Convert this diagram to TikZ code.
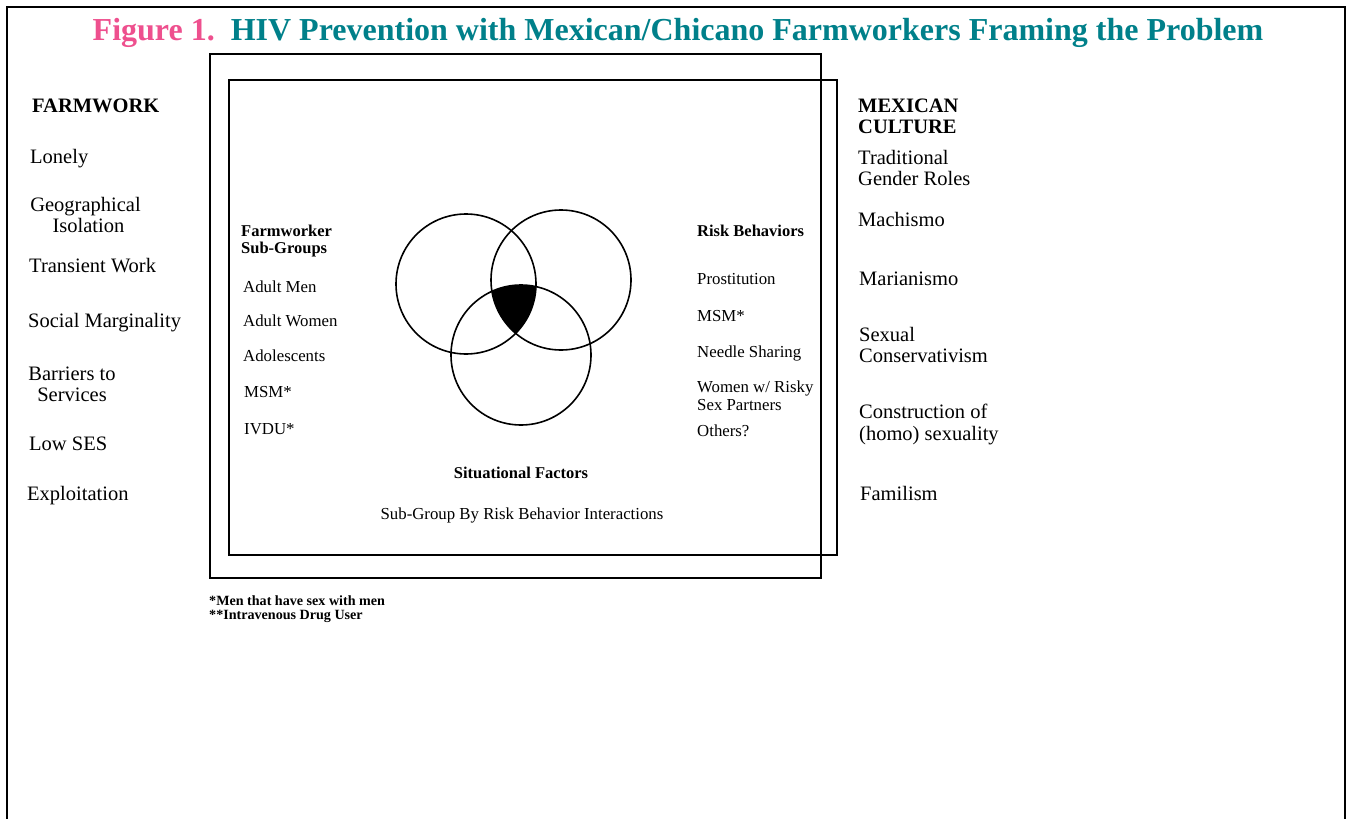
\documentclass[tikz,border=0pt]{standalone}
\usepackage{fontspec}
\setmainfont{Liberation Serif}
\definecolor{titlepink}{RGB}{238,80,142}
\definecolor{titleteal}{RGB}{0,128,138}
\tikzset{
  big/.style={inner sep=0pt, font=\fontsize{20.5}{22}\selectfont},
  bigb/.style={inner sep=0pt, font=\fontsize{20.5}{22}\selectfont\bfseries},
  small/.style={inner sep=0pt, font=\fontsize{16.8}{18}\selectfont},
  smallb/.style={inner sep=0pt, font=\fontsize{16.5}{18}\selectfont\bfseries},
  foot/.style={inner sep=0pt, font=\fontsize{14.1}{15}\selectfont\bfseries},
  frameline/.style={line width=2.5pt},
  boxline/.style={line width=2.3pt},
  vennline/.style={line width=1.6pt},
}
\begin{document}
\begin{tikzpicture}[x=1pt,y=-1pt]
\useasboundingbox (0,0) rectangle (1349,819);
% page frame
\draw[frameline] (7,819) -- (7,7) -- (1345,7) -- (1345,819);
% title
\node[inner sep=0pt, anchor=base, font=\fontsize{32}{34}\selectfont\bfseries] (title) at (678,40)
  {\textcolor{titlepink}{Figure 1.}\hspace{0.5em}\textcolor{titleteal}{HIV Prevention with Mexican/Chicano Farmworkers Framing the Problem}};
% boxes
\draw[boxline] (210,54) rectangle (821,578);
\draw[boxline] (229,80) rectangle (837,555);
% Venn
\coordinate (vA) at (466,284);
\coordinate (vB) at (561,280);
\coordinate (vC) at (521,355);
\begin{scope}
  \clip (vA) circle (70);
  \clip (vB) circle (70);
  \fill (vC) circle (70);
\end{scope}
\draw[vennline] (vA) circle (70);
\draw[vennline] (vB) circle (70);
\draw[vennline] (vC) circle (70);
% left column
\node[bigb, anchor=base west] (farmwork) at (32,112) {FARMWORK};
\node[big, anchor=base west] (lonely) at (30,163) {Lonely};
\node[big, anchor=base] (geo1) at (85.5,211) {Geographical};
\node[big, anchor=base] (geo2) at (88.5,232) {Isolation};
\node[big, anchor=base west] (transient) at (29,272) {Transient Work};
\node[big, anchor=base west] (social) at (28,327) {Social Marginality};
\node[big, anchor=base] (bar1) at (72,380) {Barriers to};
\node[big, anchor=base] (bar2) at (72,401) {Services};
\node[big, anchor=base west] (lowses) at (29,450) {Low SES};
\node[big, anchor=base west] (exploit) at (27,500) {Exploitation};
% right column
\node[bigb, anchor=base west] (mex1) at (858,112) {MEXICAN};
\node[bigb, anchor=base west] (mex2) at (858,133) {CULTURE};
\node[big, anchor=base west] (trad1) at (858,164) {Traditional};
\node[big, anchor=base west] (trad2) at (858,185) {Gender Roles};
\node[big, anchor=base west] (machismo) at (858,226) {Machismo};
\node[big, anchor=base west] (marian) at (859,285) {Marianismo};
\node[big, anchor=base west] (sex1) at (859,341) {Sexual};
\node[big, anchor=base west] (sex2) at (859,362) {Conservativism};
\node[big, anchor=base west] (cons1) at (859,418) {Construction of};
\node[big, anchor=base west] (cons2) at (859,440) {(homo) sexuality};
\node[big, anchor=base west] (familism) at (860,500) {Familism};
% inner left
\node[smallb, anchor=base west] (fsg1) at (241,236) {Farmworker};
\node[smallb, anchor=base west] (fsg2) at (241,253) {Sub-Groups};
\node[small, anchor=base west] (men) at (243,292) {Adult Men};
\node[small, anchor=base west] (women) at (243,326) {Adult Women};
\node[small, anchor=base west] (adol) at (243,361) {Adolescents};
\node[small, anchor=base west] (msmL) at (244,397) {MSM*};
\node[small, anchor=base west] (ivdu) at (244,434) {IVDU*};
% inner right
\node[smallb, anchor=base west] (risk) at (697,236) {Risk Behaviors};
\node[small, anchor=base west] (prost) at (697,284) {Prostitution};
\node[small, anchor=base west] (msmR) at (697,321) {MSM*};
\node[small, anchor=base west] (needle) at (697,357) {Needle Sharing};
\node[small, anchor=base west] (wom1) at (697,392) {Women w/ Risky};
\node[small, anchor=base west] (wom2) at (697,410) {Sex Partners};
\node[small, anchor=base west] (others) at (697,436) {Others?};
% bottom inner
\node[smallb, anchor=base] (situ) at (521,478) {Situational Factors};
\node[small, anchor=base] (inter) at (522,519) {Sub-Group By Risk Behavior Interactions};
% footnotes
\node[foot, anchor=base west] (fn1) at (209,605) {*Men that have sex with men};
\node[foot, anchor=base west] (fn2) at (209,619) {**Intravenous Drug User};
\end{tikzpicture}
\end{document}
